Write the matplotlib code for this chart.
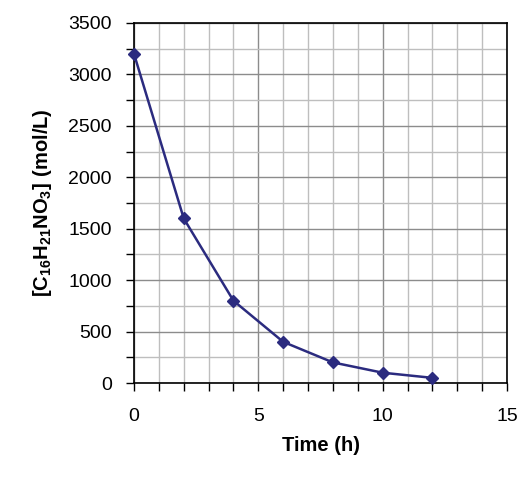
import matplotlib.pyplot as plt
from matplotlib.ticker import MultipleLocator

plt.rcParams['font.family'] = ['Liberation Sans', 'DejaVu Sans']
plt.rcParams['mathtext.fontset'] = 'custom'
plt.rcParams['mathtext.rm'] = 'Liberation Sans'
plt.rcParams['mathtext.bf'] = 'Liberation Sans:bold'

# Data
time_h = [0, 2, 4, 6, 8, 10, 12]
conc = [3200, 1600, 800, 400, 200, 100, 50]

fig = plt.figure(figsize=(5.28, 4.93), dpi=100)
ax = fig.add_axes([134 / 528, 1 - 383 / 493, (507 - 134) / 528, (383 - 23) / 493])

ax.plot(time_h, conc, color='#2B2B7F', linewidth=1.8, marker='D',
        markersize=6, markerfacecolor='#2B2B7F', markeredgecolor='#2B2B7F',
        clip_on=False, zorder=5)

ax.set_xlim(0, 15)
ax.set_ylim(0, 3500)
ax.xaxis.set_major_locator(MultipleLocator(5))
ax.xaxis.set_minor_locator(MultipleLocator(1))
ax.yaxis.set_major_locator(MultipleLocator(500))
ax.yaxis.set_minor_locator(MultipleLocator(250))

# Gridlines: darker for major, lighter for minor
ax.grid(which='major', color='#8C8C8C', linewidth=1.0)
ax.grid(which='minor', color='#BEBEBE', linewidth=1.0)
ax.set_axisbelow(True)

ax.tick_params(which='both', direction='out', length=6, width=1, color='black',
               labelsize=14)
ax.tick_params(axis='x', which='major', pad=12)
ax.tick_params(axis='y', which='major', pad=10)

for s in ax.spines.values():
    s.set_color('black')
    s.set_linewidth(1.2)

ax.set_xlabel('Time (h)', fontsize=14.5, fontweight='bold', labelpad=8)
ax.set_ylabel(r'$\mathbf{[C_{16}H_{21}NO_{3}]\ (mol/L)}$',
              fontsize=14.5, labelpad=10)

fig.savefig('out.png', dpi=100)
